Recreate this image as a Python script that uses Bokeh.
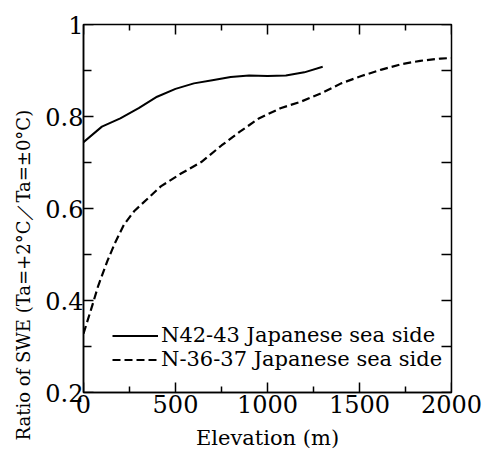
import math
from bokeh.plotting import figure
from bokeh.models import (Range1d, FixedTicker, Legend, LegendItem, Title,
                          ColumnDataSource)
from bokeh.embed import file_html
from bokeh.resources import INLINE

# ---- data ----
solid_x = [0, 100, 200, 300, 400, 500, 600, 700, 800, 900, 1000, 1100, 1200, 1300]
solid_y = [0.744, 0.778, 0.796, 0.818, 0.843, 0.860, 0.872, 0.879, 0.886, 0.889,
           0.888, 0.889, 0.896, 0.908]

dashed_x = [0, 40, 80, 130, 170, 220, 275, 350, 420, 530, 640, 750, 850, 950,
            1070, 1180, 1290, 1400, 1510, 1620, 1730, 1830, 1940, 2000]
dashed_y = [0.328, 0.379, 0.432, 0.486, 0.524, 0.565, 0.594, 0.622, 0.648, 0.676,
            0.701, 0.737, 0.767, 0.795, 0.818, 0.832, 0.850, 0.872, 0.888, 0.902,
            0.914, 0.921, 0.926, 0.927]

series_names = ["N42-43 Japanese sea side", "N-36-37 Japanese sea side"]

x_ticks = [0, 500, 1000, 1500, 2000]
x_minor = [250, 750, 1250, 1750]
y_ticks = [0.2, 0.4, 0.6, 0.8, 1.0]
y_tick_labels = ["0.2", "0.4", "0.6", "0.8", "1"]
y_minor = [0.3, 0.5, 0.7, 0.9]

x_title = "Elevation (m)"
y_title = "Ratio of SWE (Ta=+2\u00b0C\uff0fTa=\u00b10\u00b0C)"

FONT = "DejaVu Serif"
X0, X1, Y0, Y1 = 0, 2000, 0.2, 1.0
FRAME_W, FRAME_H = 368, 369

p = figure(width=483, height=452, output_backend="svg", toolbar_location=None,
           x_range=Range1d(X0, X1), y_range=Range1d(Y0, Y1),
           min_border_left=83, min_border_right=32, min_border_top=24,
           min_border_bottom=59)
p.grid.visible = False
p.outline_line_color = "black"
p.outline_line_width = 1.5
p.background_fill_color = "white"
p.border_fill_color = "white"

# inward tick marks (drawn inside the frame), built from the tick arrays
px_x = (X1 - X0) / FRAME_W
px_y = (Y1 - Y0) / FRAME_H
xs_all = x_ticks + x_minor
xlen = [10 * px_y] * len(x_ticks) + [6 * px_y] * len(x_minor)
ys_all = y_ticks + y_minor
ylen = [10 * px_x] * len(y_ticks) + [8 * px_x] * len(y_minor)

tick_src = ColumnDataSource(dict(
    x0=xs_all + xs_all + [X0] * len(ys_all) + [X1] * len(ys_all),
    y0=[Y0] * len(xs_all) + [Y1] * len(xs_all) + ys_all + ys_all,
    x1=xs_all + xs_all + [X0 + l for l in ylen] + [X1 - 10 * px_x] * len(ys_all),
    y1=[Y0 + l for l in xlen] + [Y1 - l for l in xlen] + ys_all + ys_all,
))
p.segment(x0="x0", y0="y0", x1="x1", y1="y1", source=tick_src,
          line_color="black", line_width=1.5)

r1 = p.line(solid_x, solid_y, line_color="black", line_width=2)
r2 = p.line(dashed_x, dashed_y, line_color="black", line_width=2.2, line_dash="8 4")

xa = p.xaxis[0]
xa.ticker = FixedTicker(ticks=x_ticks, minor_ticks=x_minor)
ya = p.yaxis[0]
ya.ticker = FixedTicker(ticks=y_ticks, minor_ticks=y_minor)
ya.major_label_overrides = {t: l for t, l in zip(y_ticks, y_tick_labels)}

for ax in (xa, ya):
    ax.axis_line_width = 1.5
    ax.major_tick_in = 0
    ax.major_tick_out = 0
    ax.minor_tick_in = 0
    ax.minor_tick_out = 0
    ax.major_label_text_font = FONT
    ax.major_label_text_font_size = "24px"
    ax.major_label_text_color = "black"
    ax.axis_label_text_font = FONT
    ax.axis_label_text_font_style = "normal"
    ax.axis_label_text_color = "black"

xa.major_label_standoff = 2
ya.major_label_standoff = 0
xa.axis_label = x_title
xa.axis_label_text_font_size = "21px"
xa.axis_label_standoff = 10

ytitle = Title(text=y_title, align="left", offset=-48, standoff=18,
               text_font=FONT, text_font_size="18px", text_font_style="normal",
               text_color="black")
p.add_layout(ytitle, "left")

legend = Legend(items=[LegendItem(label=series_names[0], renderers=[r1]),
                       LegendItem(label=series_names[1], renderers=[r2])],
                location=(29, 21))
legend.border_line_color = None
legend.background_fill_alpha = 0
legend.padding = 0
legend.margin = 0
legend.spacing = 0
legend.label_standoff = 3
legend.glyph_width = 46
legend.glyph_height = 21
legend.label_height = 21
legend.label_text_font = FONT
legend.label_text_font_size = "21px"
legend.label_text_color = "black"
p.add_layout(legend)

open("out.html", "w").write(file_html(p, INLINE))
